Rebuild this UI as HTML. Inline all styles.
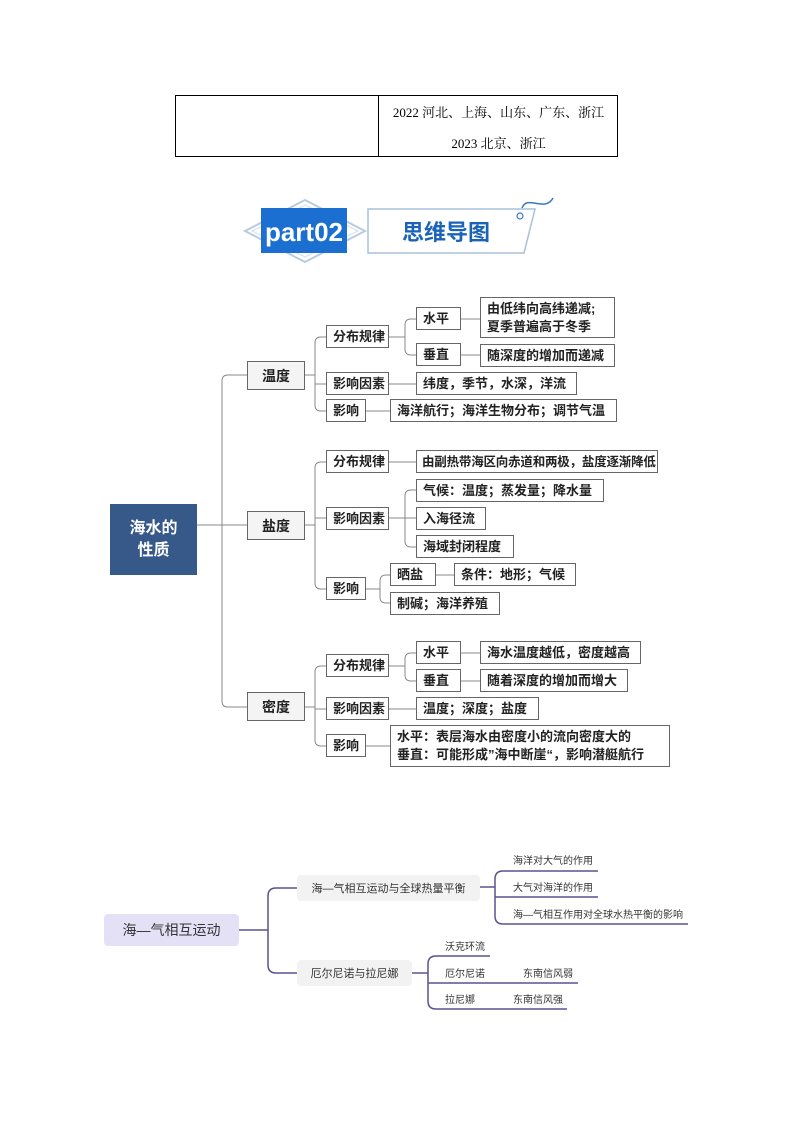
<!DOCTYPE html>
<html><head><meta charset="utf-8"><style>
body{margin:0;background:#fff;}
#p{position:relative;width:794px;height:1123px;overflow:hidden;font-family:"Liberation Sans","Noto Sans CJK SC",sans-serif;}
.a{position:absolute;}
.b{position:absolute;border:1px solid #666;background:#fff;box-sizing:border-box;font-size:13px;font-weight:bold;color:#222;display:flex;align-items:center;padding-left:6px;white-space:nowrap;line-height:18px;}
.g{background:#f4f4f4;justify-content:center;padding:0;font-size:14px;}
.t{position:absolute;font-size:10px;color:#333;white-space:nowrap;}
</style></head><body><div id="p">
<!-- table -->
<div class="a" style="left:175px;top:95px;width:443px;height:62px;border:1px solid #000;box-sizing:border-box;"></div>
<div class="a" style="left:378px;top:95px;width:1px;height:62px;background:#000;"></div>
<div class="a" style="left:379px;top:102px;width:239px;text-align:center;font-size:13px;font-family:'Liberation Serif','Noto Serif CJK SC',serif;">2022 河北、上海、山东、广东、浙江</div>
<div class="a" style="left:379px;top:133px;width:239px;text-align:center;font-size:13px;font-family:'Liberation Serif','Noto Serif CJK SC',serif;">2023 北京、浙江</div>
<!-- banner -->
<svg class="a" style="left:0;top:0" width="794" height="300">
<polygon points="305,200 365,231 305,262 245,231" fill="none" stroke="#b9cbe0" stroke-width="2"/>
<polygon points="305,205 358,231 305,257 252,231" fill="none" stroke="#d3deea" stroke-width="1"/>
<rect x="261" y="208" width="86" height="45" fill="#1a6fd0"/>
<polygon points="368,209 535,209 524,253 368,253" fill="#fff" stroke="#a9c0da" stroke-width="1.5"/>
<path d="M522,208 C526,198 535,205 545,204 C550,203 552,200 553,198" fill="none" stroke="#3a78c0" stroke-width="1.5"/>
<circle cx="520" cy="216" r="3" fill="none" stroke="#3a78c0" stroke-width="1.2"/>
<text x="304" y="241" text-anchor="middle" font-family="Liberation Sans,sans-serif" font-weight="bold" font-size="26" fill="#fff">part02</text>
<text x="446" y="240" text-anchor="middle" font-family="Noto Sans CJK SC,sans-serif" font-weight="bold" font-size="22" fill="#1a63b8">思维导图</text>
</svg>
<!-- connectors -->
<svg class="a" style="left:0;top:0" width="794" height="1123" fill="none" stroke="#888" stroke-width="1">
<path d="M197,525 H222"/>
<path d="M247,375 H228 Q222,375 222,381 V701 Q222,707 228,707 H247"/>
<path d="M222,525 H247"/>
<path d="M305,375 H315"/>
<path d="M326,337 H321 Q315,337 315,343 V405 Q315,411 321,411 H326"/>
<path d="M315,384 H326"/>
<path d="M389,337 H405"/>
<path d="M416,319 H411 Q405,319 405,325 V349 Q405,355 411,355 H416"/>
<path d="M461,319 H480 M461,355 H480 M389,384 H416 M366,411 H390"/>
<path d="M305,525 H315"/>
<path d="M326,462 H321 Q315,462 315,468 V583 Q315,589 321,589 H326"/>
<path d="M315,518 H326 M389,462 H416 M389,518 H416"/>
<path d="M416,490 H411 Q405,490 405,496 V541 Q405,547 411,547 H416"/>
<path d="M366,589 H380"/>
<path d="M390,575 H386 Q380,575 380,581 V597 Q380,603 386,603 H390"/>
<path d="M436,575 H454"/>
<path d="M305,707 H315"/>
<path d="M326,666 H321 Q315,666 315,672 V740 Q315,746 321,746 H326"/>
<path d="M315,709 H326 M389,666 H405 M461,653 H480 M461,681 H480 M389,709 H416 M366,746 H390"/>
<path d="M416,653 H411 Q405,653 405,659 V675 Q405,681 411,681 H416"/>
</svg>
<div class="b" style="left:110px;top:504px;width:87px;height:71px;background:#36598a;border-color:#36598a;color:#fff;font-size:16px;justify-content:center;padding:0;text-align:center;line-height:22px;white-space:normal;">海水的<br>性质</div>
<div class="b g" style="left:247px;top:361px;width:58px;height:29px;">温度</div>
<div class="b g" style="left:247px;top:511px;width:58px;height:29px;">盐度</div>
<div class="b g" style="left:247px;top:692px;width:58px;height:29px;">密度</div>
<div class="b" style="left:326px;top:325px;width:63px;height:23px;">分布规律</div>
<div class="b" style="left:416px;top:307px;width:45px;height:23px;">水平</div>
<div class="b" style="left:416px;top:343px;width:45px;height:23px;">垂直</div>
<div class="b" style="left:480px;top:297px;width:135px;height:41px;">由低纬向高纬递减;<br>夏季普遍高于冬季</div>
<div class="b" style="left:480px;top:344px;width:135px;height:23px;">随深度的增加而递减</div>
<div class="b" style="left:326px;top:372px;width:63px;height:23px;">影响因素</div>
<div class="b" style="left:416px;top:372px;width:161px;height:23px;">纬度，季节，水深，洋流</div>
<div class="b" style="left:326px;top:399px;width:40px;height:23px;">影响</div>
<div class="b" style="left:390px;top:399px;width:227px;height:23px;">海洋航行；海洋生物分布；调节气温</div>
<div class="b" style="left:326px;top:450px;width:63px;height:23px;">分布规律</div>
<div class="b" style="left:416px;top:450px;width:242px;height:23px;font-size:12.5px;padding-left:5px;letter-spacing:-0.2px;">由副热带海区向赤道和两极，盐度逐渐降低</div>
<div class="b" style="left:326px;top:507px;width:63px;height:23px;">影响因素</div>
<div class="b" style="left:416px;top:479px;width:188px;height:23px;">气候：温度；蒸发量；降水量</div>
<div class="b" style="left:416px;top:507px;width:70px;height:23px;">入海径流</div>
<div class="b" style="left:416px;top:535px;width:98px;height:23px;">海域封闭程度</div>
<div class="b" style="left:326px;top:577px;width:40px;height:23px;">影响</div>
<div class="b" style="left:390px;top:563px;width:46px;height:23px;">晒盐</div>
<div class="b" style="left:454px;top:563px;width:122px;height:23px;">条件：地形；气候</div>
<div class="b" style="left:390px;top:592px;width:110px;height:23px;">制碱；海洋养殖</div>
<div class="b" style="left:326px;top:654px;width:63px;height:23px;">分布规律</div>
<div class="b" style="left:416px;top:641px;width:45px;height:23px;">水平</div>
<div class="b" style="left:416px;top:669px;width:45px;height:23px;">垂直</div>
<div class="b" style="left:480px;top:641px;width:161px;height:23px;">海水温度越低，密度越高</div>
<div class="b" style="left:480px;top:669px;width:148px;height:23px;">随着深度的增加而增大</div>
<div class="b" style="left:326px;top:697px;width:63px;height:23px;">影响因素</div>
<div class="b" style="left:416px;top:697px;width:123px;height:23px;">温度；深度；盐度</div>
<div class="b" style="left:326px;top:734px;width:40px;height:23px;">影响</div>
<div class="b" style="left:390px;top:725px;width:280px;height:42px;">水平：表层海水由密度小的流向密度大的<br>垂直：可能形成”海中断崖“，影响潜艇航行</div>
<svg class="a" style="left:0;top:0" width="794" height="1123" fill="none" stroke="#5a5290" stroke-width="1.5">
<path d="M239,930 H268"/>
<path d="M297,888 H276 Q268,888 268,896 V965 Q268,973 276,973 H297"/>
<path d="M480,887 H495"/>
<path d="M598,871 H503 Q495,871 495,879 V916 Q495,924 503,924 H688"/>
<path d="M495,897 H598"/>
<path d="M412,973 H428"/>
<path d="M490,956 H436 Q428,956 428,964 V1001 Q428,1009 436,1009 H567"/>
<path d="M428,983 H578"/>
</svg>
<div class="a" style="left:104px;top:914px;width:135px;height:32px;background:#e4e1f6;border-radius:4px;font-size:14px;color:#333;display:flex;align-items:center;justify-content:center;">海—气相互运动</div>
<div class="a" style="left:297px;top:875px;width:183px;height:26px;background:#f2f2f2;border-radius:4px;font-size:11px;color:#333;display:flex;align-items:center;justify-content:center;">海—气相互运动与全球热量平衡</div>
<div class="a" style="left:297px;top:960px;width:115px;height:26px;background:#f2f2f2;border-radius:4px;font-size:11px;color:#333;display:flex;align-items:center;justify-content:center;">厄尔尼诺与拉尼娜</div>
<div class="t" style="left:513px;top:852px;">海洋对大气的作用</div>
<div class="t" style="left:513px;top:879px;">大气对海洋的作用</div>
<div class="t" style="left:513px;top:906px;">海—气相互作用对全球水热平衡的影响</div>
<div class="t" style="left:445px;top:938px;">沃克环流</div>
<div class="t" style="left:445px;top:965px;">厄尔尼诺</div>
<div class="t" style="left:523px;top:965px;">东南信风弱</div>
<div class="t" style="left:445px;top:991px;">拉尼娜</div>
<div class="t" style="left:513px;top:991px;">东南信风强</div>
</div></body></html>
